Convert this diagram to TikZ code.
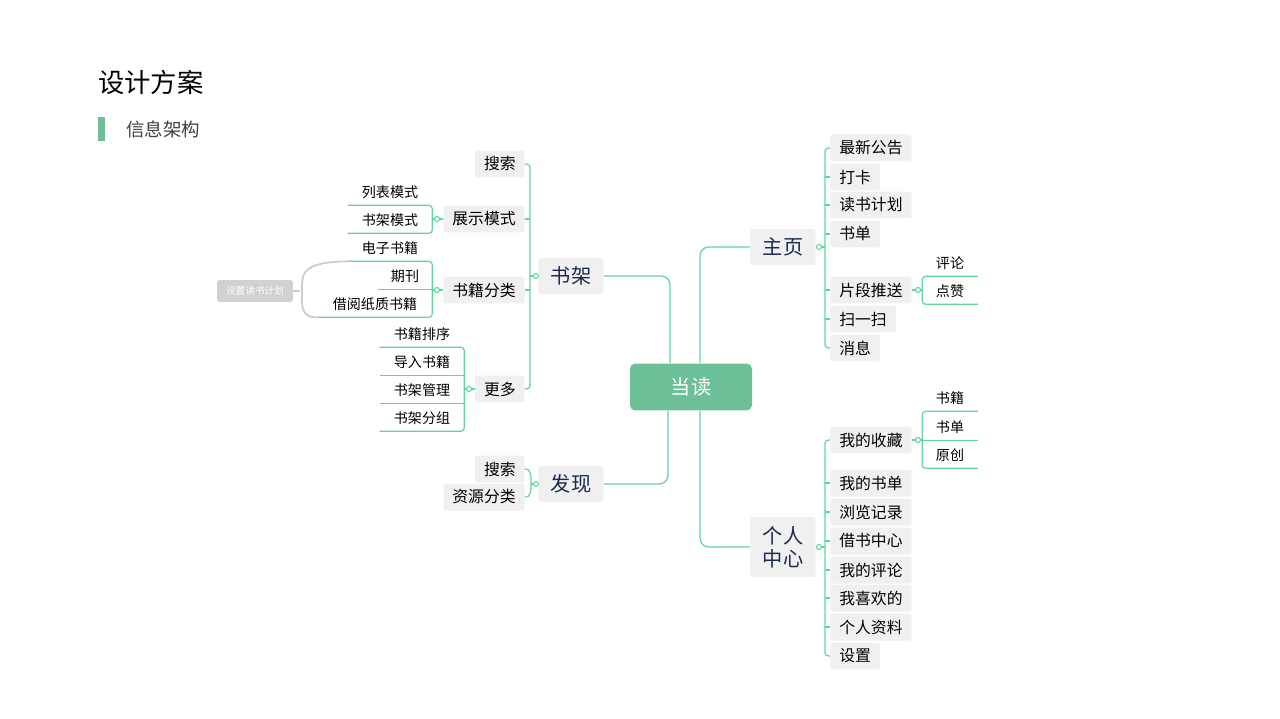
\documentclass[tikz,border=0pt]{standalone}
\usepackage{fontspec}
\setmainfont{Noto Sans CJK SC}
\usetikzlibrary{positioning,calc}
\definecolor{lgreen}{HTML}{5FD69C}
\definecolor{cgreen}{HTML}{6DBF98}
\definecolor{boxgray}{HTML}{F0F0F0}
\definecolor{navy}{HTML}{1B2A50}
\tikzset{
  box/.style={fill=boxgray, rounded corners=1pt, inner xsep=0.18cm, inner ysep=0pt, minimum height=0.54cm, font=\fontsize{9}{9}\selectfont},
  topic/.style={fill=boxgray, rounded corners=1.5pt, inner xsep=0.25cm, minimum height=0.72cm, text=navy, font=\fontsize{11.5}{13}\selectfont},
  sub/.style={inner sep=0pt, minimum height=0.52cm, font=\fontsize{8}{8}\selectfont},
  link/.style={lgreen, line width=0.7pt, rounded corners=2pt},
  dot/.style={circle, draw=lgreen, fill=white, line width=0.6pt, inner sep=0pt, minimum size=0.1cm}
}
\begin{document}
\begin{tikzpicture}[x=0.02cm,y=-0.02cm]
\useasboundingbox (0,0) rectangle (1280,719);
% title
\node[anchor=west, font=\fontsize{15}{15}\selectfont] (title) at (92,82) {设计方案};
\fill[cgreen] (98,117) rectangle (105,141);
\node[anchor=west, font=\fontsize{10.5}{11}\selectfont, text=black!75] (sub) at (120,129) {信息架构};

% centre and topics
\node[fill=cgreen, rounded corners=3pt, minimum width=2.44cm, minimum height=0.94cm, text=white, font=\fontsize{11.5}{13}\selectfont] (dd) at (691,387) {当读};
\node[topic] (sj) at (571,276) {书架};
\node[topic] (fx) at (571,484) {发现};
\node[topic] (zy) at (783,247) {主页};
\node[topic, align=center, font=\fontsize{11.5}{13}\selectfont, minimum height=1.2cm] (gr) at (783,547) {个人\\中心};
\draw[link, rounded corners=5pt] (sj.east) -| ($(dd.north)+(-21,0)$);
\draw[link, rounded corners=5pt] (zy.west) -| ($(dd.north)+(9,0)$);
\draw[link, rounded corners=5pt] (fx.east) -| ($(dd.south)+(-23,0)$);
\draw[link, rounded corners=5pt] (gr.west) -| ($(dd.south)+(9,0)$);

% 书架
\node[box, anchor=east] (sj1) at (525,164) {搜索};
\node[box, anchor=east] (sj2) at (525,219) {展示模式};
\node[box, anchor=east] (sj3) at (525,290) {书籍分类};
\node[box, anchor=east] (sj4) at (525,389) {更多};
\draw[link] (sj1.east) -| (530,276) |- (sj4.east);
\draw[link] (sj2.east) -- (530,219) (sj3.east) -- (530,290) (530,276) -- (sj.west);
\node[dot] at (536,276) {};

\node[sub] (zs1) at (390,192) {\makebox[1.68cm]{列表模式}};
\node[sub] (zs2) at (390,220) {\makebox[1.68cm]{书架模式}};
\draw[link] (zs1.south west) -- (zs1.south east) -- (zs2.south east) -- (zs2.south west);
\draw[link] (zs2.east |- sj2.west) -- (sj2.west);
\node[dot] at (437,219) {};

\node[sub] (fl1) at (390,248) {\makebox[1.68cm]{电子书籍}};
\node[sub] (fl2) at (405,276) {\makebox[1.08cm]{期刊}};
\node[sub] (fl3) at (375,304) {\makebox[2.28cm]{借阅纸质书籍}};
\draw[link] (fl1.south west) -- (fl1.south east) -- (fl3.south east) -- (fl3.south west);
\draw[link] (fl2.south west) -- (fl2.south east);
\draw[link] (fl3.east |- sj3.west) -- (sj3.west);
\node[dot] at (437,290) {};
\node[fill=black!18, rounded corners=1.5pt, text=white, minimum width=1.52cm, minimum height=0.44cm, inner sep=0pt, font=\fontsize{5.5}{6}\selectfont] (jh) at (255,291) {设置读书计划};
\draw[black!20, line width=1pt] (jh.east) -- ++(7,0);
\draw[black!20, line width=1pt] (fl1.south west) .. controls (300,262) and (302,275) .. (302,290) .. controls (302,305) and (300,318) .. (fl3.south west);

\node[sub] (gd1) at (422,334) {\makebox[1.68cm]{书籍排序}};
\node[sub] (gd2) at (422,362) {\makebox[1.68cm]{导入书籍}};
\node[sub] (gd3) at (422,390) {\makebox[1.68cm]{书架管理}};
\node[sub] (gd4) at (422,418) {\makebox[1.68cm]{书架分组}};
\draw[link] (gd1.south west) -- (gd1.south east) -- (gd4.south east) -- (gd4.south west);
\foreach \n in {gd2,gd3} \draw[link] (\n.south west) -- (\n.south east);
\draw[link] (gd4.east |- sj4.west) -- (sj4.west);
\node[dot] at (469,389) {};

% 发现
\node[box, anchor=east] (fx1) at (525,469) {搜索};
\node[box, anchor=east] (fx2) at (525,497) {资源分类};
\draw[link] (fx1.east) to[out=10, in=90] (531,484) to[out=-90, in=-10] (fx2.east);
\draw[link] (531,484) -- (fx.west);
\node[dot] at (536,484) {};

% 主页
\foreach \n/\y/\t in {zy1/148/最新公告, zy2/177/打卡, zy3/205/读书计划, zy4/234/书单, zy5/290/片段推送, zy6/319/扫一扫, zy7/348/消息}
  \node[box, anchor=west] (\n) at (830,\y) {\t};
\draw[link] (zy1.west) -| (825,247) |- (zy7.west);
\foreach \n in {zy2,zy3,zy4,zy5,zy6} \draw[link] (zy1.west -| 825,0) (825,0 |- \n.west) -- (\n.west);
\draw[link] (825,247) -- (zy.east);
\node[dot] at (819,247) {};

\node[sub] (pd1) at (950,263) {\makebox[1.1cm]{评论}};
\node[sub] (pd2) at (950,291) {\makebox[1.1cm]{点赞}};
\draw[link] (pd1.south east) -- (pd1.south west) -- (pd2.south west) -- (pd2.south east);
\draw[link] (zy5.east) -- (pd1.west |- zy5.east);
\node[dot] at (918,290) {};

% 个人中心
\foreach \n/\y/\t in {gr1/440/我的收藏, gr2/483/我的书单, gr3/512/浏览记录, gr4/541/借书中心, gr5/570/我的评论, gr6/598/我喜欢的, gr7/627/个人资料, gr8/656/设置}
  \node[box, anchor=west] (\n) at (830,\y) {\t};
\draw[link] (gr1.west) -| (825,547) |- (gr8.west);
\foreach \n in {gr2,gr3,gr4,gr5,gr6,gr7} \draw[link] (825,0 |- \n.west) -- (\n.west);
\draw[link] (825,547) -- (gr.east);
\node[dot] at (819,547) {};

\node[sub] (sc1) at (950,398) {\makebox[1.1cm]{书籍}};
\node[sub] (sc2) at (950,427) {\makebox[1.1cm]{书单}};
\node[sub] (sc3) at (950,455) {\makebox[1.1cm]{原创}};
\draw[link] (sc1.south east) -- (sc1.south west) -- (sc3.south west) -- (sc3.south east);
\draw[link] (sc2.south west) -- (sc2.south east);
\draw[link] (gr1.east) -- (sc1.west |- gr1.east);
\node[dot] at (918,440) {};
\end{tikzpicture}
\end{document}
